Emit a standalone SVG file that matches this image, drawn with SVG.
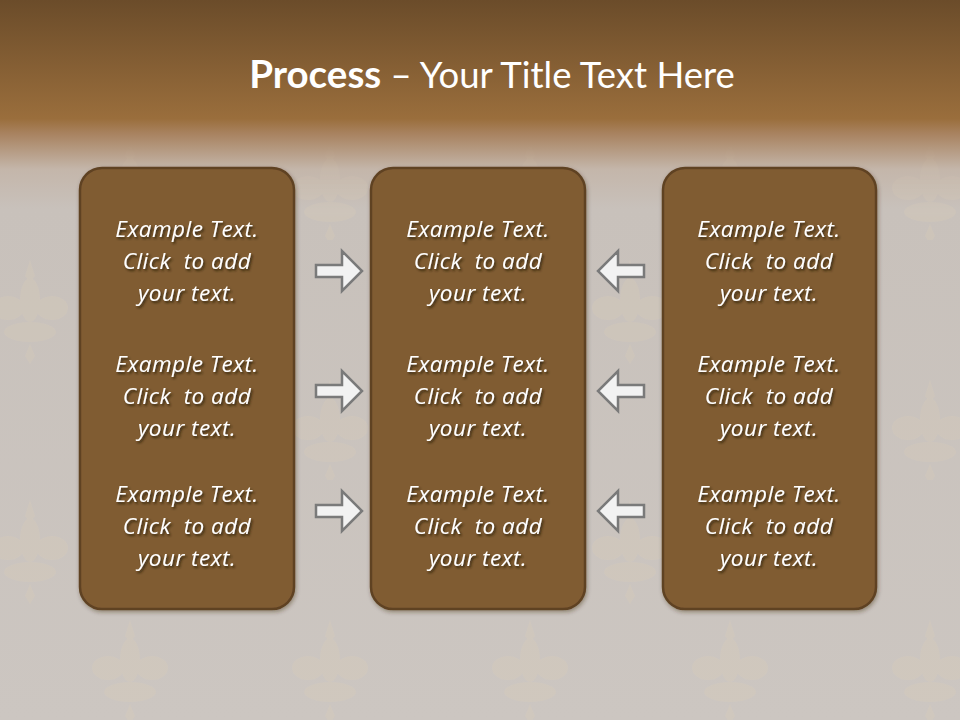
<svg xmlns="http://www.w3.org/2000/svg" width="960" height="720" viewBox="0 0 960 720">
<defs>
<linearGradient id="bg" x1="0" y1="0" x2="0" y2="1">
<stop offset="0" stop-color="#6b4c2a"/>
<stop offset="0.165" stop-color="#9a6e3c"/>
<stop offset="0.185" stop-color="#a8825f"/>
<stop offset="0.235" stop-color="#c4b6aa"/>
<stop offset="0.29" stop-color="#c8c1bb"/>
<stop offset="1" stop-color="#ccc6c1"/>
</linearGradient>
<linearGradient id="fadeTop" x1="0" y1="0" x2="0" y2="1">
<stop offset="0" stop-color="#fff" stop-opacity="0"/>
<stop offset="0.2" stop-color="#fff" stop-opacity="0"/>
<stop offset="0.3" stop-color="#fff" stop-opacity="1"/>
<stop offset="1" stop-color="#fff" stop-opacity="1"/>
</linearGradient>
<mask id="m"><rect width="960" height="720" fill="url(#fadeTop)"/></mask>
<g id="motif" fill="#dfd0b6">
<ellipse cx="0" cy="0" rx="10" ry="22"/>
<ellipse cx="-22" cy="8" rx="16" ry="12"/>
<ellipse cx="22" cy="8" rx="16" ry="12"/>
<ellipse cx="0" cy="32" rx="26" ry="10"/>
<path d="M0,-40 L5,-24 L0,-18 L-5,-24 Z"/>
<path d="M0,44 L5,56 L0,64 L-5,56 Z"/>
</g>
<pattern id="dam" patternUnits="userSpaceOnUse" width="200" height="240" x="-30" y="0">
<use href="#motif" x="60" y="60"/>
<use href="#motif" x="160" y="180"/>
</pattern>
<filter id="ts" x="-10%" y="-20%" width="130%" height="160%">
<feDropShadow dx="1.5" dy="2" stdDeviation="1.2" flood-color="#2a1a08" flood-opacity="0.85"/>
</filter>
<filter id="bs" x="-5%" y="-5%" width="115%" height="115%">
<feDropShadow dx="1" dy="2" stdDeviation="2" flood-color="#3a2810" flood-opacity="0.4"/>
</filter>
<path id="ar" d="M316,265 H342 V251 L362,271 L342,291 V277 H316 Z"/>
<path id="al" d="M644,265 H618 V251 L598,271 L618,291 V277 H644 Z"/>
</defs>
<style>
.box{fill:#805b33;stroke:#5f4223;stroke-width:2.5}
.t{font-family:"Open Sans",Lato,sans-serif;font-style:italic;font-size:22.5px;letter-spacing:0.5px;fill:#ffffff;text-anchor:middle}
.arr{fill:#f2f2f2;stroke:#7a7a7a;stroke-width:2.5;stroke-linejoin:miter}
.title{font-family:Lato,"Open Sans",sans-serif;font-size:36.5px;fill:#ffffff;text-anchor:middle}
</style>
<rect width="960" height="720" fill="url(#bg)"/>
<rect width="960" height="720" fill="url(#dam)" opacity="0.22" mask="url(#m)"/>
<text class="title" x="492" y="88"><tspan font-weight="bold" font-size="38.5">Process</tspan> – Your Title Text Here</text>
<g id="node-left">
<rect class="box" x="80" y="168" width="214" height="441" rx="22" filter="url(#bs)"/>
<g class="t" filter="url(#ts)">
<text x="187" y="237">Example Text.</text><text x="187" y="269">Click&#160; to add</text><text x="187" y="301">your text.</text>
<text x="187" y="372">Example Text.</text><text x="187" y="404">Click&#160; to add</text><text x="187" y="436">your text.</text>
<text x="187" y="502">Example Text.</text><text x="187" y="534">Click&#160; to add</text><text x="187" y="566">your text.</text>
</g>
</g>
<g id="node-middle">
<rect class="box" x="371" y="168" width="214" height="441" rx="22" filter="url(#bs)"/>
<g class="t" filter="url(#ts)">
<text x="478" y="237">Example Text.</text><text x="478" y="269">Click&#160; to add</text><text x="478" y="301">your text.</text>
<text x="478" y="372">Example Text.</text><text x="478" y="404">Click&#160; to add</text><text x="478" y="436">your text.</text>
<text x="478" y="502">Example Text.</text><text x="478" y="534">Click&#160; to add</text><text x="478" y="566">your text.</text>
</g>
</g>
<g id="node-right">
<rect class="box" x="663" y="168" width="213" height="441" rx="22" filter="url(#bs)"/>
<g class="t" filter="url(#ts)">
<text x="769" y="237">Example Text.</text><text x="769" y="269">Click&#160; to add</text><text x="769" y="301">your text.</text>
<text x="769" y="372">Example Text.</text><text x="769" y="404">Click&#160; to add</text><text x="769" y="436">your text.</text>
<text x="769" y="502">Example Text.</text><text x="769" y="534">Click&#160; to add</text><text x="769" y="566">your text.</text>
</g>
</g>
<g id="connectors">
<use href="#ar" class="arr"/>
<use href="#ar" class="arr" transform="translate(0,120)"/>
<use href="#ar" class="arr" transform="translate(0,240)"/>
<use href="#al" class="arr"/>
<use href="#al" class="arr" transform="translate(0,120)"/>
<use href="#al" class="arr" transform="translate(0,240)"/>
</g>
</svg>
